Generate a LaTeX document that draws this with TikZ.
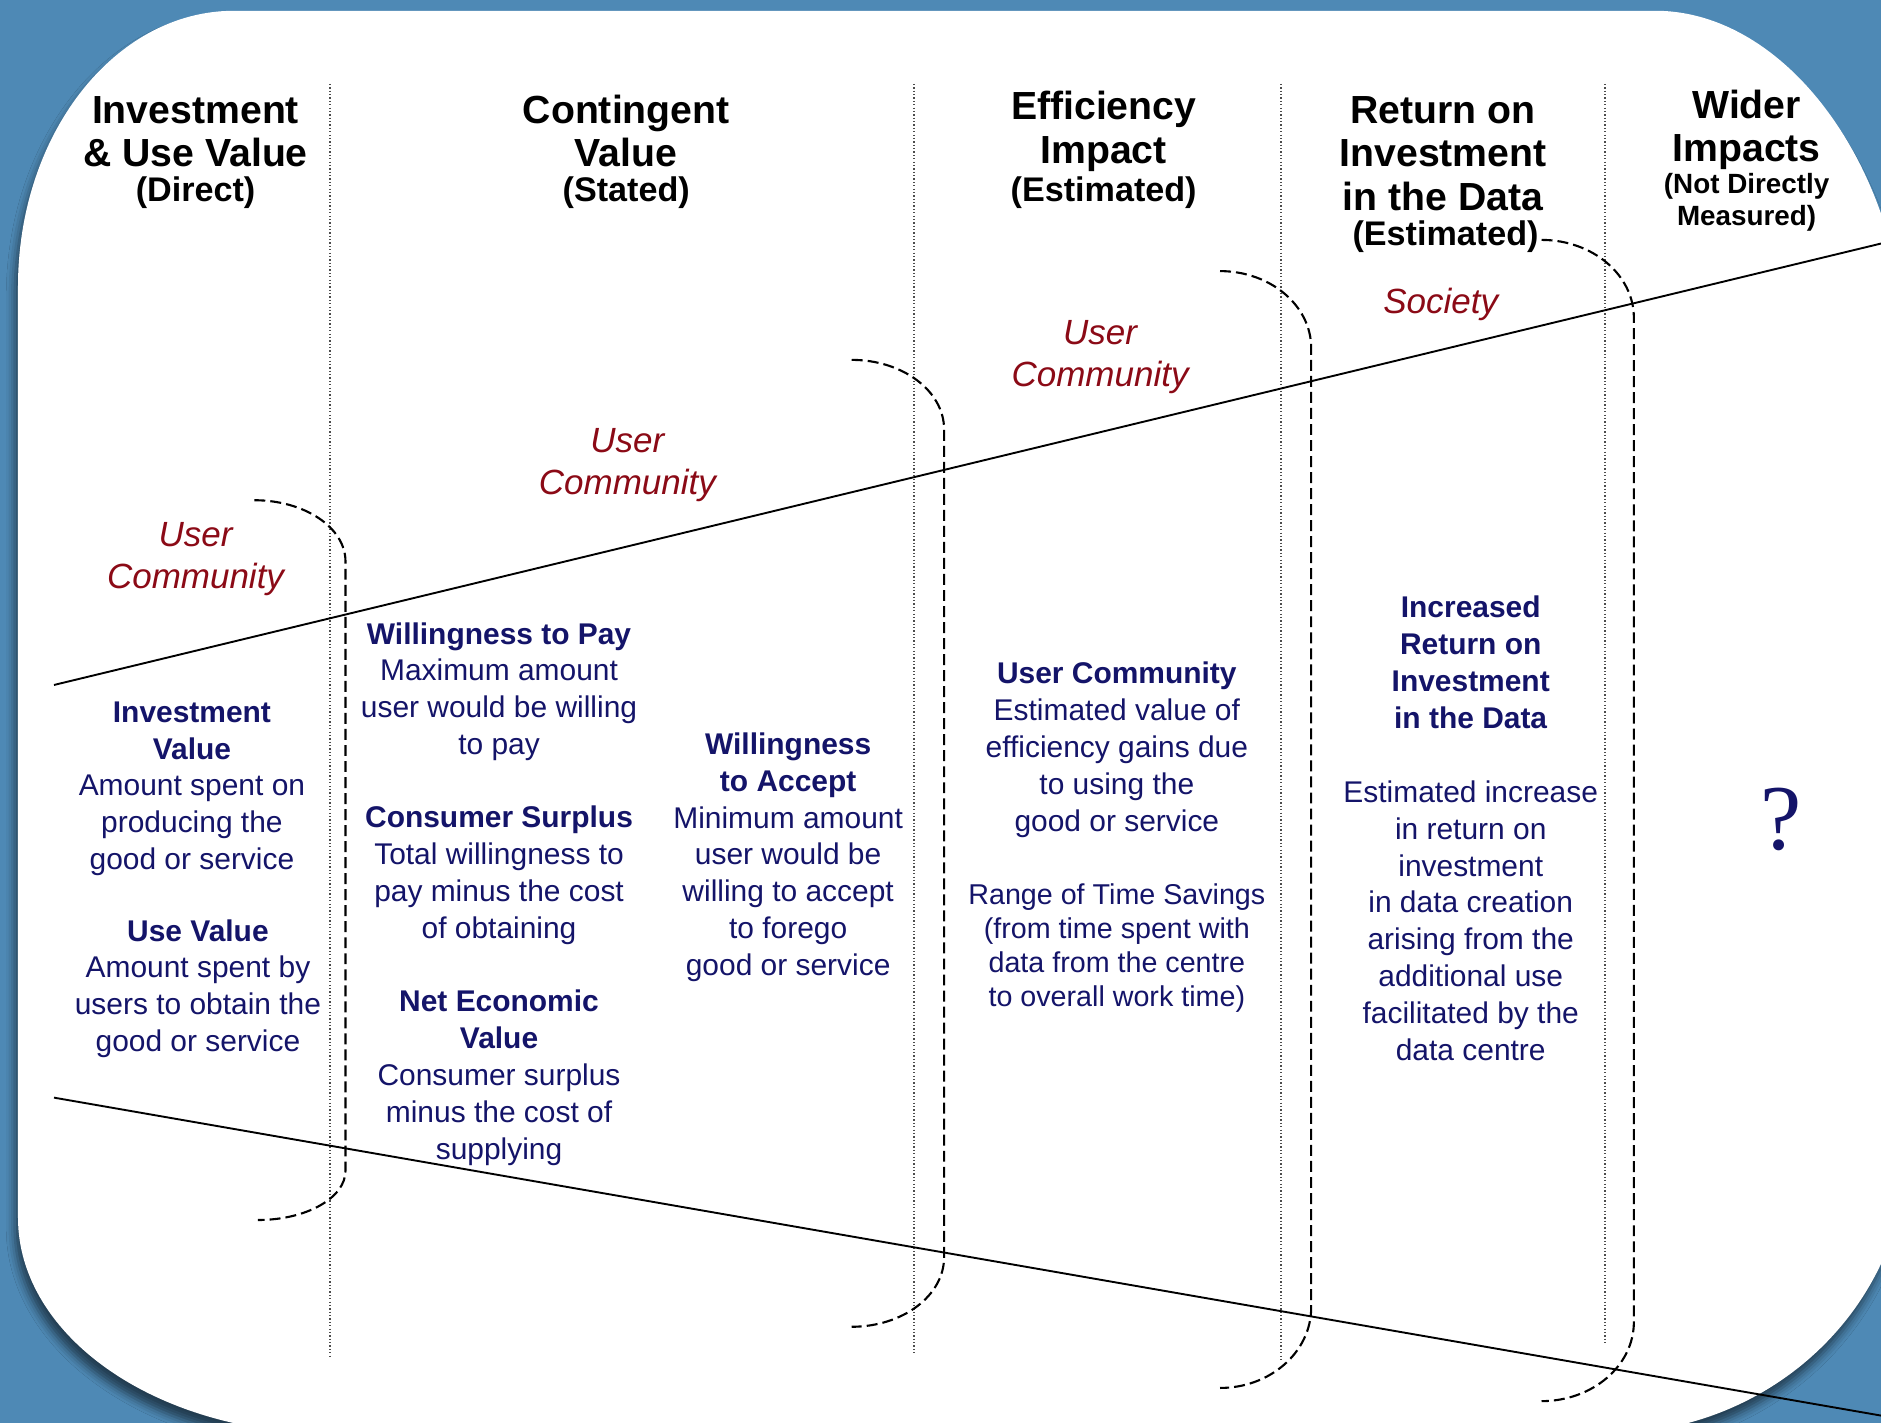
\documentclass[tikz,border=0pt]{standalone}
\usepackage{fontspec}
\setmainfont{Liberation Sans}
\newfontfamily\qmarkfont{Liberation Serif}
\usetikzlibrary{shadows.blur}
\definecolor{slide}{RGB}{78,137,181}
\definecolor{navy}{RGB}{20,20,105}
\definecolor{wine}{RGB}{139,10,22}

\begin{document}
\begin{tikzpicture}[x=0.1mm,y=-0.1mm,
  head/.style={align=center, inner sep=0pt, font=\fontsize{9.3}{10.24}\selectfont\bfseries},
  subhead/.style={align=center, inner sep=0pt, font=\fontsize{8.1}{9}\selectfont\bfseries},
  group/.style={align=center, inner sep=0pt, text=wine, font=\fontsize{8.3}{9.96}\selectfont\itshape},
  body/.style={align=center, inner sep=0pt, text=navy, font=\fontsize{7.1}{8.73}\selectfont},
  sep/.style={draw=black!70, line width=0.35pt, dash pattern=on 0.3pt off 0.5pt},
  bracket/.style={line width=0.5pt, dash pattern=on 2.6pt off 1.2pt},
  split/.style={line width=0.45pt}]
  \useasboundingbox (0,0) rectangle (1568,1186);
  \clip (0,0) rectangle (1568,1186);
  \fill[slide] (0,0) rectangle (1568,1186);

  \fill[white, blur shadow={shadow xshift=-0.8pt, shadow yshift=-2.5pt, shadow blur radius=2pt, shadow opacity=55}]
    (195,9) -- (1380,9)
    .. controls (1490.4,9) and (1590,143.4) .. (1590,309)
    -- (1590,955)
    .. controls (1590,1087.5) and (1478,1195) .. (1340,1195)
    -- (275,1195)
    .. controls (131.5,1195) and (15,1114.4) .. (15,1015)
    -- (15,239)
    .. controls (15,112) and (95.6,9) .. (195,9) -- cycle;

  % column rules
  \foreach \x/\ye in {275/1130, 762/1128, 1068/1135, 1338/1120}
    \draw[sep] (\x,70) -- (\x,\ye);

  % audience brackets
  \foreach \xl/\xr/\yt/\ya/\yb/\xe/\ye in {212/288/417/468/976/215/1017,
      710/787/300/358/1048/710/1106, 1017/1093/226/290/1090/1017/1157,
      1285/1362/200/265/1102/1285/1168}
    \draw[bracket] (\xl,\yt) .. controls ({\xl+0.552*(\xr-\xl)},\yt) and (\xr,{\ya-0.552*(\ya-\yt)}) .. (\xr,\ya)
      -- (\xr,\yb) .. controls (\xr,{\yb+0.552*(\ye-\yb)}) and ({\xe+0.552*(\xr-\xe)},\ye) .. (\xe,\ye);

  \coordinate (hiW) at (45,571);
  \coordinate (hiE) at (1600,195.3);
  \coordinate (loW) at (45,915);
  \coordinate (loE) at (1600,1185.6);
  \draw[split] (hiW) -- (hiE);
  \draw[split] (loW) -- (loE);

  \node[head] (invh) at (163,109.5) {Investment\\\& Use Value};
  \node[subhead] (invs) at (163,161) {(Direct)};
  \node[head] (conh) at (522,109.5) {Contingent\\Value};
  \node[subhead] (cons) at (522,161) {(Stated)};
  \node[head] (effh) at (920,109.5) {Efficiency\\Impact};
  \node[subhead] (effs) at (920,161) {(Estimated)};
  \node[head] (roih) at (1203,128) {Return on\\Investment\\in the Data};
  \node[subhead] (rois) at (1205,197) {(Estimated)};
  \node[head] (widh) at (1456,108) {Wider\\Impacts};
  \node[subhead, font=\fontsize{6.6}{7.7}\selectfont\bfseries] (wids) at (1456,168.5) {(Not Directly\\Measured)};

  \node[group] (grp1) at (163,466) {User\\Community};
  \node[group] (grp2) at (523,387.5) {User\\Community};
  \node[group] (grp3) at (917,297.5) {User\\Community};
  \node[group] (grp4) at (1201,254) {Society};

  \node[body] (invv) at (160,657.5) {\textbf{Investment}\\\textbf{Value}\\Amount spent on\\producing the\\good or service};
  \node[body] (usev) at (165,824) {\textbf{Use Value}\\Amount spent by\\users to obtain the\\good or service};
  \node[body] (wtp) at (416,576.5) {\textbf{Willingness to Pay}\\Maximum amount\\user would be willing\\to pay};
  \node[body] (cs) at (416,729.5) {\textbf{Consumer Surplus}\\Total willingness to\\pay minus the cost\\of obtaining};
  \node[body] (nev) at (416,898.5) {\textbf{Net Economic}\\\textbf{Value}\\Consumer surplus\\minus the cost of\\supplying};
  \node[body] (wta) at (657,714.5) {\textbf{Willingness}\\\textbf{to Accept}\\Minimum amount\\user would be\\willing to accept\\to forego\\good or service};
  \node[body] (ucv) at (931,625) {\textbf{User Community}\\Estimated value of\\efficiency gains due\\to using the\\good or service};
  \node[body, font=\fontsize{6.8}{8.05}\selectfont] (rts) at (931,790) {Range of Time Savings\\(from time spent with\\data from the centre\\to overall work time)};
  \node[body] (iroi) at (1226,552) {\textbf{Increased}\\\textbf{Return on}\\\textbf{Investment}\\\textbf{in the Data}};
  \node[body] (eroi) at (1226,767.5) {Estimated increase\\in return on\\investment\\in data creation\\arising from the\\additional use\\facilitated by the\\data centre};
  \node[text=navy, font=\qmarkfont\fontsize{22}{24}\selectfont] (qm) at (1485,683) {?};
\end{tikzpicture}
\end{document}
